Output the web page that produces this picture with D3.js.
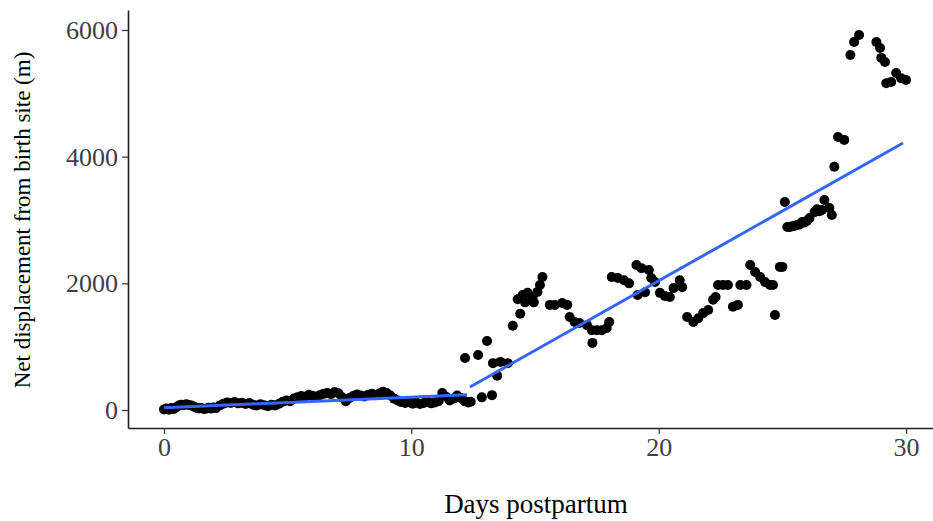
<!DOCTYPE html>
<html>
<head>
<meta charset="utf-8">
<script src="https://cdn.jsdelivr.net/npm/d3@7"></script>
<style>
  html, body { margin: 0; padding: 0; background: #fff; }
  svg { display: block; }
</style>
</head>
<body>
<svg id="chart" width="933" height="521"></svg>
<script>
// Days since birth for each GPS fix
const days = [
  0.00, 0.10, 0.20, 0.30, 0.40, 0.50, 0.60, 0.70, 0.80, 0.90,
  1.00, 1.10, 1.20, 1.30, 1.40, 1.50, 1.60, 1.70, 1.80, 1.90,
  2.00, 2.10, 2.25, 2.40, 2.55, 2.70, 2.85, 3.00, 3.15, 3.30,
  3.45, 3.60, 3.75, 3.90, 4.05, 4.20, 4.35, 4.50, 4.65, 4.80,
  4.95, 5.10, 5.25, 5.40, 5.55, 5.70, 5.85, 6.00, 6.15, 6.30,
  6.45, 6.60, 6.75, 6.90, 7.05, 7.20, 7.35, 7.50, 7.65, 7.80,
  7.95, 8.10, 8.25, 8.40, 8.55, 8.70, 8.85, 9.00, 9.15, 9.30,
  9.45, 9.60, 9.75, 9.90, 10.05, 10.20, 10.35, 10.50, 10.65, 10.80,
  10.95, 11.10, 11.25, 11.40, 11.55, 11.70, 11.85, 12.00, 12.15, 12.30,
  12.17, 12.40, 12.70, 12.85, 13.06, 13.26, 13.30, 13.47, 13.60, 13.90,
  14.10, 14.30, 14.40, 14.50, 14.60, 14.70, 14.90, 14.95, 15.10, 15.20,
  15.30, 15.60, 15.80, 16.10, 16.30, 16.40, 16.60, 16.80, 17.10, 17.30,
  17.32, 17.50, 17.70, 17.90, 18.00, 18.10, 18.35, 18.60, 18.80, 19.10,
  19.15, 19.30, 19.45, 19.60, 19.70, 19.85, 20.05, 20.25, 20.45, 20.60,
  20.85, 20.95, 21.15, 21.40, 21.60, 21.80, 22.00, 22.20, 22.30, 22.40,
  22.60, 22.80, 23.00, 23.20, 23.30, 23.55, 23.70, 23.90, 24.10, 24.30,
  24.50, 24.62, 24.70, 24.90, 25.00, 25.10, 25.20, 25.30, 25.40, 25.50,
  25.60, 25.70, 25.80, 25.90, 26.00, 26.10, 26.30, 26.40, 26.50, 26.60,
  26.70, 26.90, 27.00, 27.10, 27.25, 27.50, 27.75, 27.90, 28.10, 28.80,
  28.95, 29.00, 29.15, 29.20, 29.40, 29.60, 29.80, 30.00
];

// Net displacement from the birth site (m) at each fix
const displacement = [
  10, 25, 5, 30, 15, 45, 70, 85, 75, 90,
  80, 70, 55, 35, 25, 30, 15, 20, 35, 25,
  40, 30, 70, 100, 120, 110, 125, 105, 115, 95,
  110, 85, 70, 90, 75, 60, 85, 70, 100, 130,
  150, 140, 180, 200, 220, 205, 240, 225, 210, 235,
  255, 270, 250, 285, 265, 200, 140, 190, 220, 245,
  230, 215, 240, 255, 235, 260, 290, 270, 230, 180,
  150, 125, 110, 130, 100, 120, 95, 110, 130, 105,
  120, 140, 270, 210, 150, 180, 230, 190, 140, 120,
  820, 130, 870, 200, 1090, 235, 740, 540, 760, 740,
  1330, 1750, 1520, 1815, 1700, 1850, 1785, 1700, 1865, 1975,
  2100, 1660, 1660, 1690, 1660, 1470, 1390, 1375, 1340, 1260,
  1060, 1260, 1260, 1295, 1390, 2100, 2085, 2050, 2000, 2290,
  1815, 2240, 1860, 2210, 2085, 2020, 1850, 1800, 1785, 1925,
  2050, 1940, 1470, 1390, 1450, 1530, 1580, 1740, 1785, 1975,
  1975, 1975, 1630, 1660, 1975, 1975, 2290, 2180, 2100, 2020,
  1975, 1975, 1500, 2260, 2260, 3285, 2890, 2890, 2900, 2910,
  2920, 2930, 2970, 2960, 2990, 3030, 3125, 3170, 3140, 3160,
  3315, 3190, 3080, 3840, 4310, 4265, 5605, 5810, 5920, 5810,
  5715, 5560, 5495, 5160, 5180, 5320, 5240, 5210
];

// Piecewise linear fit: before and after the break near day 12.3
const fitDays = [[0, 12.25], [12.37, 29.88]];
const fitValues = [[35, 240], [363, 4215]];

const xTicks = [0, 10, 20, 30];
const yTicks = [0, 2000, 4000, 6000];

const xTitle = "Days postpartum";
const yTitle = "Net displacement from birth site (m)";

const svg = d3.select("#chart");
const font = "'Liberation Serif', 'Times New Roman', serif";

// Panel spans x 128..933 and y 10..428
const x = d3.scaleLinear().domain([-1.456, 31.09]).range([128, 933]);
const y = d3.scaleLinear().domain([-284, 6316]).range([428, 10]);

// Points
svg.append("g")
  .selectAll("circle")
  .data(days.map((d, i) => ({ day: d, value: displacement[i] })))
  .join("circle")
  .attr("cx", d => x(d.day))
  .attr("cy", d => y(d.value))
  .attr("r", 5)
  .attr("fill", "#000");

// Fitted lines
const line = d3.line().x(d => x(d[0])).y(d => y(d[1]));
svg.append("g")
  .selectAll("path")
  .data(fitDays.map((ds, i) => ds.map((d, j) => [d, fitValues[i][j]])))
  .join("path")
  .attr("d", line)
  .attr("fill", "none")
  .attr("stroke", "#3366FF")
  .attr("stroke-width", 3);

// Axes
const xAxis = svg.append("g")
  .attr("transform", "translate(0,428)")
  .call(d3.axisBottom(x).tickValues(xTicks).tickSize(6).tickPadding(4).tickSizeOuter(0));
const yAxis = svg.append("g")
  .attr("transform", "translate(128,0)")
  .call(d3.axisLeft(y).tickValues(yTicks).tickSize(6).tickPadding(4).tickSizeOuter(0).tickFormat(d3.format("d")));

[xAxis, yAxis].forEach(g => {
  g.select(".domain").attr("stroke", "#222").attr("stroke-width", 1.6);
  g.selectAll(".tick line").attr("stroke", "#333").attr("stroke-width", 1.2);
  g.selectAll(".tick text")
    .attr("fill", "#404040")
    .style("font-family", font)
    .style("font-size", "26px");
});

// Axis titles
svg.append("text")
  .attr("x", 536)
  .attr("y", 513)
  .attr("text-anchor", "middle")
  .style("font-family", font)
  .style("font-size", "27px")
  .attr("fill", "#000")
  .text(xTitle);

svg.append("text")
  .attr("transform", "translate(30,220) rotate(-90)")
  .attr("text-anchor", "middle")
  .style("font-family", font)
  .style("font-size", "23px")
  .attr("fill", "#000")
  .text(yTitle);
</script>
</body>
</html>
